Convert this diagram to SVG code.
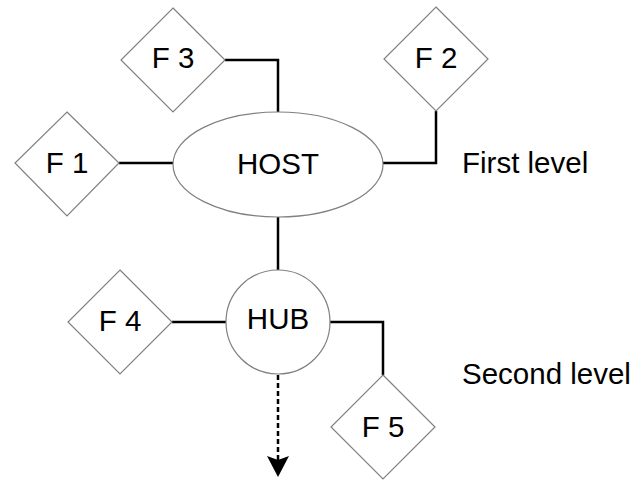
<svg xmlns="http://www.w3.org/2000/svg" width="644" height="480" viewBox="0 0 644 480">
<style>
.shape{fill:#fff;stroke:#808080;stroke-width:1.2}
.t{font-family:"Liberation Sans",Arial,sans-serif;font-size:29.5px;fill:#000;text-anchor:middle}
.lbl{font-family:"Liberation Sans",Arial,sans-serif;font-size:29.5px;fill:#000}
.c{fill:none;stroke:#000;stroke-width:2.5}
.head{fill:#000;stroke:none}
</style>
<rect width="644" height="480" fill="#fff"/>
<g id="connectors">
<polyline class="c" points="225,60 278,60 278,112"/>
<line class="c" x1="119" y1="163" x2="173" y2="163"/>
<polyline class="c" points="436,111 436,163 383,163"/>
<line class="c" x1="278" y1="217" x2="278" y2="270"/>
<line class="c" x1="172" y1="322" x2="226" y2="322"/>
<polyline class="c" points="330,322 383,322 383,375"/>
<line class="c" x1="278" y1="375" x2="278" y2="461" stroke-dasharray="5,3" stroke-width="3"/>
<polygon class="head" points="267,456 278,460 289,456 278,477"/>
</g>
<g id="F3"><polygon class="shape" points="173,8 225,60 173,112 121,60"/><text class="t" x="173" y="68">F 3</text></g>
<g id="F1"><polygon class="shape" points="67,112 119,163 67,216 15,163"/><text class="t" x="67" y="173">F 1</text></g>
<g id="F2"><polygon class="shape" points="436,7 488,59 436,111 384,59"/><text class="t" x="436" y="68">F 2</text></g>
<g id="HOST"><ellipse class="shape" cx="278" cy="164.5" rx="105" ry="52.5"/><text class="t" x="278" y="174">HOST</text></g>
<g id="HUB"><circle class="shape" cx="278" cy="322" r="52"/><text class="t" x="278" y="329">HUB</text></g>
<g id="F4"><polygon class="shape" points="120,270 172,322 120,374 68,322"/><text class="t" x="120" y="331">F 4</text></g>
<g id="F5"><polygon class="shape" points="383,375 435,427 383,479 331,427"/><text class="t" x="383" y="437">F 5</text></g>
<text class="lbl" x="462" y="173">First level</text>
<text class="lbl" x="462" y="384">Second level</text>
</svg>
